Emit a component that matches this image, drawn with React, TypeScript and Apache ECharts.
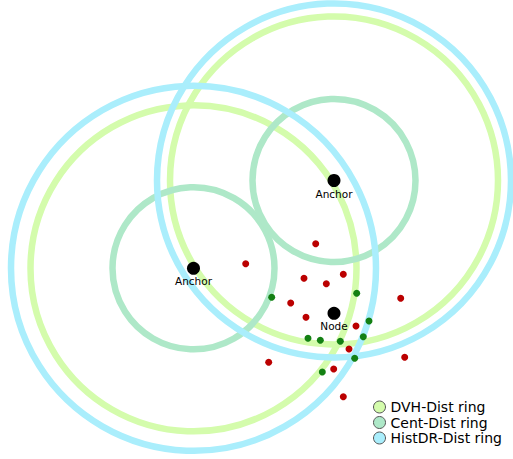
import React, { useEffect, useRef } from "react";
import * as echarts from "echarts";

// Units: arbitrary distance units, node at origin
const anchors: [number, number][] = [
  [-14.05, 4.5],
  [0, 13.28],
];
const nodePoint: [number, number] = [0, 0];

const centRadii = [8.1, 8.15];
const dvhRadii = [16.3, 16.4];
const histRadii = [18.25, 17.7];

const redPoints: [number, number][] = [
  [-1.83, 6.96],
  [-3.0, 3.5],
  [0.93, 3.9],
  [-0.77, 2.96],
  [-4.33, 1.03],
  [-2.8, -0.4],
  [6.67, 1.5],
  [2.2, -1.27],
  [1.5, -3.57],
  [-6.53, -4.9],
  [7.07, -4.4],
  [-0.03, -5.57],
  [0.93, -8.34],
  [-8.83, 4.96],
];

const greenPoints: [number, number][] = [
  [-6.23, 1.6],
  [2.27, 2.0],
  [3.5, -0.77],
  [2.93, -2.34],
  [-2.6, -2.5],
  [-1.37, -2.7],
  [0.63, -2.8],
  [2.07, -4.5],
  [-1.17, -5.87],
];

const ringNames = ["DVH-Dist ring", "Cent-Dist ring", "HistDR-Dist ring"];
const ringColors = ["#d4fcac", "#aee8c8", "#aaeefc"];
const ringRadii = [dvhRadii, centRadii, histRadii];

const FONT = "DejaVu Sans";

export default function App() {
  const ref = useRef<HTMLDivElement>(null);
  useEffect(() => {
    if (!ref.current) return;
    const chart = echarts.init(ref.current, null, { renderer: "svg" });

    const ringSeries = ringNames.map((name, i) => ({
      name,
      type: "custom",
      z: 2,
      itemStyle: { color: ringColors[i], borderColor: "#555", borderWidth: 1 },
      data: anchors.map((a, k) => [a[0], a[1], ringRadii[i][k]]),
      encode: { x: 0, y: 1 },
      renderItem: (params: any, api: any) => {
        const c = api.coord([api.value(0), api.value(1)]);
        const r = api.size([api.value(2), 0])[0];
        return {
          type: "circle",
          shape: { cx: c[0], cy: c[1], r },
          style: { fill: "none", stroke: ringColors[i], lineWidth: 6.5 },
          silent: true,
        };
      },
    }));

    const labelStyle = {
      show: true,
      position: "bottom",
      distance: 1,
      fontSize: 10.5,
      fontFamily: FONT,
      color: "#000",
    };

    const option: any = {
      animation: false,
      backgroundColor: "#ffffff",
      grid: { left: 0, right: 0, top: 0, bottom: 0 },
      xAxis: { type: "value", min: -33.4, max: 17.9, show: false },
      yAxis: { type: "value", min: -14.57, max: 31.33, show: false },
      legend: {
        data: ringNames,
        orient: "vertical",
        left: 373,
        top: 400,
        icon: "circle",
        itemWidth: 12,
        itemHeight: 12,
        itemGap: 1.5,
        selectedMode: false,
        itemStyle: { borderColor: "#555", borderWidth: 1 },
        textStyle: { fontSize: 14, fontFamily: FONT, color: "#000", padding: [0, 0, 0, 0] },
        padding: 0,
      },
      series: [
        ...ringSeries,
        {
          type: "scatter",
          z: 5,
          symbolSize: 7,
          itemStyle: { color: "#bb0000", opacity: 1 },
          data: redPoints,
          silent: true,
        },
        {
          type: "scatter",
          z: 5,
          symbolSize: 7,
          itemStyle: { color: "#138013", opacity: 1 },
          data: greenPoints,
          silent: true,
        },
        {
          type: "scatter",
          z: 6,
          symbolSize: 13,
          itemStyle: { color: "#000", opacity: 1 },
          label: { ...labelStyle, formatter: "Anchor" },
          data: anchors,
          silent: true,
        },
        {
          type: "scatter",
          z: 6,
          symbolSize: 13,
          itemStyle: { color: "#000", opacity: 1 },
          label: { ...labelStyle, formatter: "Node" },
          data: [nodePoint],
          silent: true,
        },
      ],
    };
    chart.setOption(option);
    return () => chart.dispose();
  }, []);
  return (
    <div
      ref={ref}
      style={{ position: "fixed", left: 0, top: 0, width: 513, height: 459 }}
    />
  );
}
